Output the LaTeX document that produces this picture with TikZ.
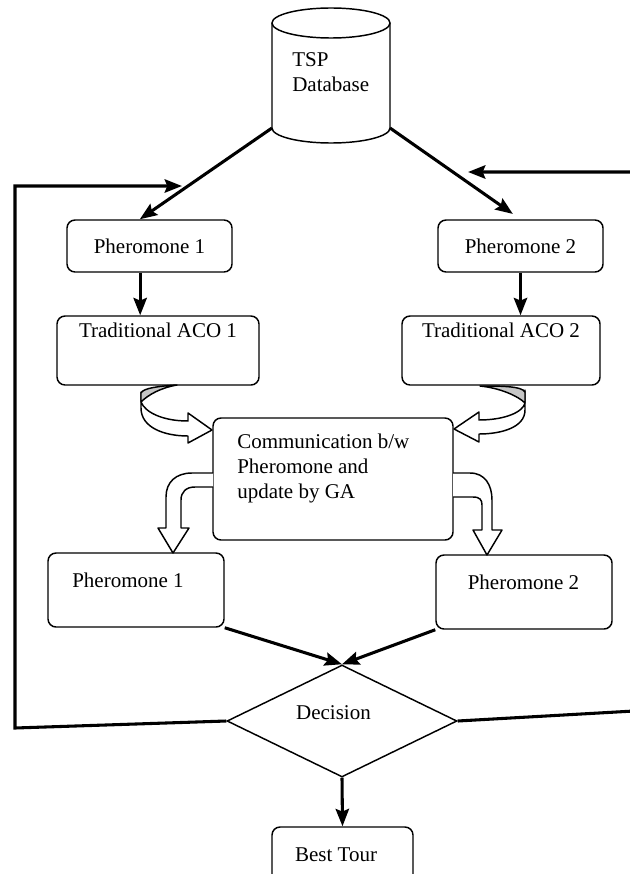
\documentclass[tikz,border=0pt]{standalone}
\usepackage{fontspec}
\setmainfont{Liberation Serif}
\usetikzlibrary{positioning, arrows.meta, shapes.geometric}

\tikzset{
  box/.style={draw, line width=1.1pt, rounded corners=6pt, inner sep=0pt, font=\fontsize{15.75}{19}\selectfont},
  txt/.style={inner sep=0pt, font=\fontsize{15.75}{19}\selectfont},
  arr/.style={line width=2.3pt, -{Stealth[length=13pt,width=10pt,inset=2pt]}},
  fb/.style={line width=2.3pt},
  blockarr/.style={draw, fill=white, line width=1.1pt, line join=round},
  back/.style={draw, fill=gray!45, line width=1.1pt, line join=round}
}

\begin{document}
\begin{tikzpicture}[x=0.75pt, y=-0.75pt]
    \useasboundingbox (0,0) rectangle (629,874);

    % Draw database
    \draw[line width=1.1pt, fill=white] (272,23) -- (272,128)
      arc[start angle=180, end angle=0, x radius=59, y radius=15] -- (390,23);
    \draw[line width=1.1pt] (331,23) ellipse [x radius=59, y radius=15];
    \coordinate (dbl) at (272,128);
    \coordinate (dbr) at (390,128);
    \node[txt, anchor=base west] (dbt1) at (292,67) {TSP};
    \node[txt, anchor=base west] (dbt2) at (292,91) {Database};

    % Draw boxes
    \node[box, minimum width=123.75pt, minimum height=39pt] (p1) at (149.5,246) {Pheromone 1};
    \node[box, minimum width=123.75pt, minimum height=39pt] (p2) at (520.5,246) {Pheromone 2};
    \node[box, minimum width=151.5pt, minimum height=51.75pt] (aco1) at (158,350.5) {};
    \node[box, minimum width=148.5pt, minimum height=51.75pt] (aco2) at (501,350.5) {};
    \node[txt, anchor=base] (aco1t) at (158,337) {Traditional ACO 1};
    \node[txt, anchor=base] (aco2t) at (501,337) {Traditional ACO 2};

    \node[box, minimum width=180pt, minimum height=91.5pt] (comm) at (333,479) {};
    \foreach \t [count=\i] in {Communication b/w, Pheromone and, update by GA} {
      \node[txt, anchor=base west] (commt\i) at (237,423+25*\i) {\t};
    }

    \node[box, minimum width=132pt, minimum height=55.5pt] (q1) at (136,590) {};
    \node[box, minimum width=132pt, minimum height=55.5pt] (q2) at (524,592) {};
    \node[txt, anchor=base west] (q1t) at (72,587) {Pheromone 1};
    \node[txt, anchor=base] (q2t) at (523.5,589) {Pheromone 2};

    \node[diamond, draw, line width=1.1pt, aspect=2.05, inner sep=0pt,
          minimum width=172.5pt, minimum height=84pt] (dec) at (342,721) {};
    \node[txt, anchor=base] (dect) at (333.5,719) {Decision};

    \node[box, minimum width=105.75pt, minimum height=42pt] (best) at (342.5,855) {};
    \node[txt, anchor=base] (bestt) at (336,861) {Best Tour};

    % Draw arrows
    \draw[arr] (dbl) -- (p1.110);
    \draw[arr, shorten >=7pt] (dbr) -- (p2.north);
    \draw[arr] ([xshift=-7pt]p1.south) -- ([xshift=-7pt]p1.south |- aco1.north);
    \draw[arr] (p2.south) -- (p2.south |- aco2.north);
    \draw[arr] (q1.south east) -- (dec.north);
    \draw[arr] (q2.south west) -- (dec.north);
    \draw[arr] (dec.south) -- (best.north);

    % Draw feedback lines
    \coordinate (fbl) at (15,728);
    \coordinate (fbl-end) at (182,186);
    \coordinate (fbr) at (634,711);
    \coordinate (fbr-end) at (468,172);
    \draw[fb, -{Stealth[length=13pt,width=10pt,inset=2pt]}] (dec.west) -- (fbl) |- (fbl-end);
    \draw[fb, -{Stealth[length=13pt,width=10pt,inset=2pt]}] (dec.east) -- (fbr) |- (fbr-end);

    % Draw curved block arrows
    \draw[blockarr] (141,392) -- (141,408) .. controls (141,428) and (165,436) .. (188,436)
      -- (188,443) -- (212,430) -- (188,413) -- (188,421)
      .. controls (162,421) and (145,412) .. (141,402) -- cycle;
    \draw[back] (177,385) .. controls (160,386) and (143,388) .. (141,393) -- (141,402)
      .. controls (148,395) and (160,388) .. (177,385) -- cycle;
    \draw[blockarr] (525,390) -- (525,410) .. controls (525,428) and (500,434) .. (479,434)
      -- (479,442) -- (454,429) -- (479,412) -- (479,420)
      .. controls (505,420) and (523,412) .. (525,403) -- cycle;
    \draw[back] (480,386) .. controls (500,386) and (522,386) .. (525,392) -- (525,403)
      .. controls (518,396) and (500,388) .. (480,386) -- cycle;

    % Draw bent block arrows
    \draw[blockarr] (213,473) -- (192,473) .. controls (176,473) and (166,482) .. (166,497)
      -- (166,528) -- (158,528) -- (173,553) -- (189,528) -- (181,528) -- (181,500)
      .. controls (181,492) and (186,487) .. (195,487) -- (213,487);
    \draw[blockarr] (453,473) -- (470,473) .. controls (485,473) and (492,485) .. (492,500)
      -- (492,530) -- (502,530) -- (487,555) -- (473,530) -- (482,530) -- (482,505)
      .. controls (482,500) and (480,497) .. (473,497) -- (453,497);

\end{tikzpicture}
\end{document}
